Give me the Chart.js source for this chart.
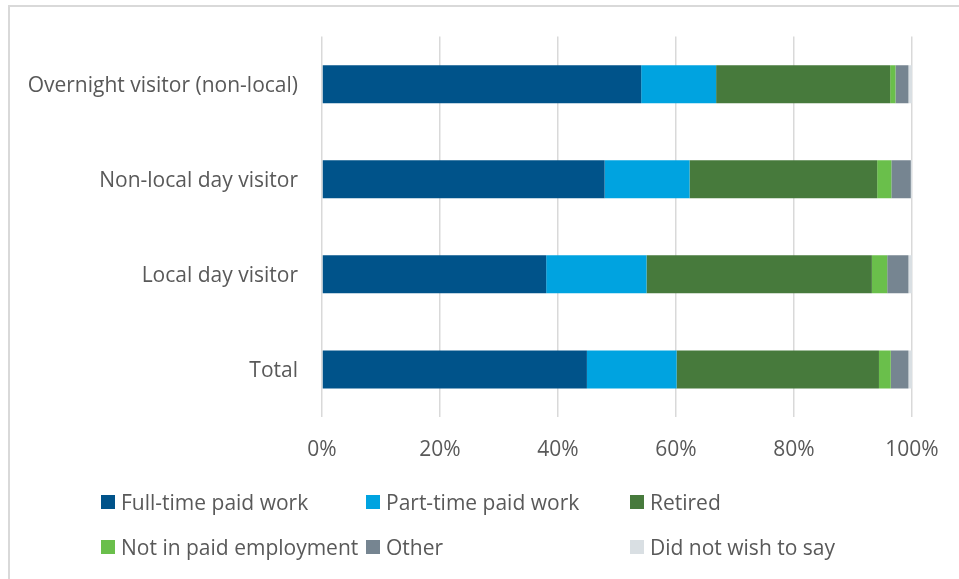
<!DOCTYPE html>
<html>
<head>
<meta charset="utf-8">
<script src="https://cdn.jsdelivr.net/npm/chart.js@4/dist/chart.umd.min.js"></script>
<style>
  html, body { margin: 0; padding: 0; background: #fff; }
  #wrap { position: relative; width: 959px; height: 579px; overflow: hidden; }
  #frame {
    position: absolute; left: 8px; top: 5px; width: 1000px; height: 600px;
    border-left: 2px solid #D9D9D9; border-top: 2px solid #D9D9D9;
  }
  #mychart { position: absolute; left: 0; top: 0; }
  #legend {
    position: absolute; left: 101px; top: 490px;
    display: grid; grid-template-columns: 265px 264px 300px; row-gap: 21px;
    font-family: "Open Sans", Lato, sans-serif; font-size: 21px; color: #595959;
  }
  .item { display: flex; align-items: center; height: 24px; white-space: nowrap; }
  .box { width: 14px; height: 14px; margin-right: 6px; flex: none; }
</style>
</head>
<body>
<div id="wrap">
  <div id="frame"></div>
  <canvas id="mychart" width="959" height="579"></canvas>
  <div id="legend"></div>
</div>
<script>
// Nhãn các nhóm khách
const categories = [
  "Overnight visitor (non-local)",
  "Non-local day visitor",
  "Local day visitor",
  "Total",
];

// Tỷ lệ (%) theo tình trạng việc làm
const fullTime = [54.1, 47.9, 38.0, 44.9];
const partTime = [12.7, 14.4, 17.0, 15.2];
const retired = [29.5, 31.8, 38.2, 34.3];
const notEmployed = [0.9, 2.4, 2.6, 2.0];
const other = [2.2, 3.3, 3.6, 3.0];
const noSay = [0.6, 0.2, 0.6, 0.6];

const xTicks = [0, 20, 40, 60, 80, 100];

const seriesNames = [
  "Full-time paid work",
  "Part-time paid work",
  "Retired",
  "Not in paid employment",
  "Other",
  "Did not wish to say",
];
const seriesData = [fullTime, partTime, retired, notEmployed, other, noSay];
const seriesColors = ["#00538A", "#00A3E0", "#477A3C", "#6ABF4B", "#768591", "#D9DFE3"];

const font = { family: "'Open Sans', Lato, sans-serif", size: 21 };

const ctx = document.getElementById("mychart").getContext("2d");
const mychart = new Chart(ctx, {
  type: "bar",
  data: {
    labels: categories,
    datasets: seriesNames.map((name, i) => ({
      label: name,
      data: seriesData[i],
      backgroundColor: seriesColors[i],
      borderWidth: 0,
      categoryPercentage: 1,
      barPercentage: 0.4,
    })),
  },
  options: {
    indexAxis: "y",
    responsive: false,
    animation: false,
    layout: { padding: { top: 35, right: 47, left: 0, bottom: 0 } },
    plugins: { legend: { display: false }, tooltip: { enabled: false } },
    scales: {
      x: {
        stacked: true,
        min: 0,
        max: 100,
        afterBuildTicks: (s) => { s.ticks = xTicks.map((v) => ({ value: v })); },
        afterFit: (s) => { s.height = 579 - 417; },
        grid: { color: "#D9D9D9", lineWidth: 1.5, drawTicks: false },
        border: { display: false },
        ticks: {
          padding: 20,
          color: "#595959",
          font: font,
          callback: (v) => v + "%",
        },
      },
      y: {
        stacked: true,
        afterFit: (s) => { s.width = 322; },
        grid: { display: false, drawTicks: false },
        border: { display: false },
        ticks: { padding: 24, labelOffset: 2, color: "#595959", font: font },
      },
    },
  },
});

// Chú thích dạng lưới 3 cột
const legend = document.getElementById("legend");
mychart.data.datasets.forEach((ds) => {
  const item = document.createElement("div");
  item.className = "item";
  const box = document.createElement("span");
  box.className = "box";
  box.style.background = ds.backgroundColor;
  const txt = document.createElement("span");
  txt.textContent = ds.label;
  item.appendChild(box);
  item.appendChild(txt);
  legend.appendChild(item);
});
</script>
</body>
</html>
